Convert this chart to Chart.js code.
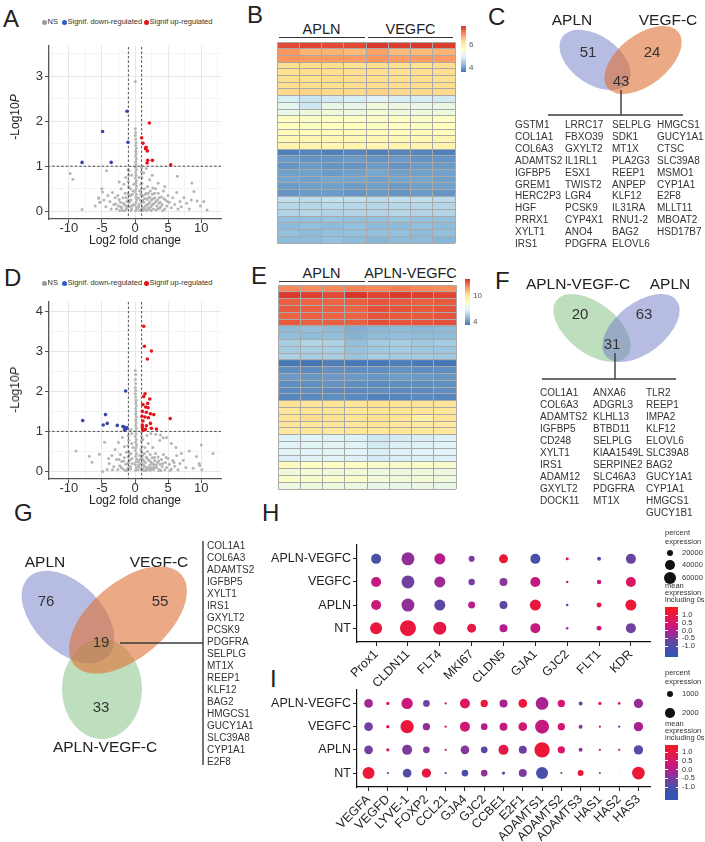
<!DOCTYPE html>
<html>
<head>
<meta charset="utf-8">
<script src="https://cdn.jsdelivr.net/npm/chart.js"></script>
<style>
body{margin:0;background:#fff;}
#page{position:relative;width:705px;height:842px;overflow:hidden;font-family:"Liberation Sans",Arial,sans-serif;color:#222;}
canvas{position:absolute;}
.t{position:absolute;white-space:nowrap;line-height:1;}
.ln{position:absolute;height:0;border-top:1.3px solid #333;}
.bar{position:absolute;}
</style>
</head>
<body>
<div id="page"></div>
<script>
// ---------- data ----------
const fcCut = 1, pCut = 1;

// volcano A (APLN vs VEGFC)
const aUp = [[2.17,1.96],[1.01,1.63],[1.21,1.51],[1.67,1.42],[1.6,1.39],[1.87,1.34],[1.92,1.13],[1.82,1.07],[2.63,1.13],[5.4,1.03]];
const aDown = [[-1.21,2.22],[-4.9,1.77],[-1.06,1.53],[-8.0,1.085],[-3.6,1.085]];
const aNS = [
  [0.1,0.02],[0.2,0.08],[0.05,0.14],[0.15,0.2],[0.25,0.26],[0.1,0.32],[0.2,0.38],[0.05,0.44],[0.15,0.5],[0.25,0.56],
  [0.1,0.62],[0.2,0.68],[0.05,0.74],[0.15,0.8],[0.1,0.86],[0.2,0.92],[0.1,0.98],[0.15,1.04],[0.1,1.1],[0.2,1.16],
  [0.1,1.22],[0.15,1.28],[0.1,1.34],[0.2,1.4],[0.1,1.46],[0.15,1.52],[0.1,1.6],[0.05,1.68],[0.1,1.75],[0.05,1.83],[0.05,2.88],
  [-1.05,0.1],[-0.95,0.25],[-1.05,0.4],[-0.95,0.55],[-1.0,0.66],[-0.95,0.8],[-1.05,0.92],
  [1.0,0.05],[0.95,0.2],[1.05,0.35],[0.95,0.5],[1.0,0.62],[1.05,0.75],[0.95,0.88],[1.0,0.97],
  [-2.8,0.05],[-2.5,0.12],[-2.2,0.2],[-2.0,0.08],[-1.8,0.3],[-1.6,0.15],[-1.5,0.4],[-1.3,0.05],[-1.2,0.22],[-0.9,0.35],
  [-0.8,0.1],[-0.7,0.5],[-0.6,0.25],[-0.5,0.05],[-0.4,0.38],[-0.3,0.15],[-0.2,0.6],[-0.3,0.45],[-0.6,0.02],[-1.9,0.02],
  [0.4,0.05],[0.5,0.3],[0.6,0.15],[0.7,0.45],[0.8,0.25],[0.9,0.6],[1.1,0.1],[1.2,0.35],[1.3,0.2],[1.4,0.5],
  [1.5,0.05],[1.6,0.28],[1.7,0.4],[1.8,0.15],[1.9,0.55],[2.0,0.08],[2.1,0.32],[2.2,0.2],[2.3,0.45],[2.4,0.1],
  [2.5,0.25],[2.6,0.38],[2.8,0.05],[2.9,0.18],[3.0,0.3],[3.1,0.5],[3.3,0.12],[3.4,0.25],[3.5,0.4],[3.7,0.07],
  [3.8,0.2],[4.0,0.32],[4.1,0.15],[4.3,0.45],[4.5,0.05],[4.6,0.25],[4.8,0.12],[5.0,0.35],[5.2,0.2],[5.5,0.08],
  [5.7,0.3],[6.0,0.15],[6.3,0.42],[6.5,0.05],[6.8,0.22],[7.0,0.1],[7.4,0.3],[7.8,0.18],[8.2,0.05],[8.5,0.25],
  [1.2,0.02],[1.6,0.12],[2.2,0.04],[2.7,0.15],[3.2,0.03],[3.6,0.18],[4.2,0.02],[1.4,0.28],[2.0,0.4],[2.7,0.52],
  [0.55,0.1],[0.75,0.02],[0.85,0.38],[1.15,0.24],[1.35,0.08],[1.55,0.38],[1.75,0.02],[1.85,0.26],[2.05,0.16],[2.25,0.3],
  [2.45,0.02],[2.55,0.14],[2.75,0.28],[2.95,0.4],[3.15,0.22],[3.45,0.06],[3.65,0.3],[3.9,0.1],[4.4,0.28],[4.9,0.22],
  [-0.45,0.12],[-0.65,0.35],[-0.85,0.2],[-1.15,0.12],[-1.35,0.3],[-1.55,0.02],[-1.75,0.18],[-2.15,0.1],[-2.4,0.26],[-2.9,0.16],
  [-3.0,0.3],[-3.2,0.15],[-3.4,0.42],[-3.6,0.05],[-3.8,0.22],[-4.1,0.35],[-4.4,0.1],[-4.7,0.25],[-5.0,0.5],[-5.3,0.2],
  [-5.5,0.3],[-6.0,0.12],[-2.6,0.35],[-2.1,0.5],[-1.7,0.6],[-2.3,0.02],[-1.4,0.12],
  [0.6,0.75],[1.3,0.85],[2.2,0.7],[3.5,0.62],[4.5,0.55],[1.7,0.95],[2.6,0.8],[-0.5,0.8],[-1.4,0.75],[-2.4,0.65],[-0.9,0.9],
  [-9.8,0.84],[-9.4,0.71],[-8.0,0.04],[-4.3,0.9],[-4.9,0.43],[-5.5,0.29],[-5.3,0.2],[6.4,0.78],[8.6,0.63],[8.9,0.44],
  [10.4,0.22],[10.9,0.03],[9.4,0.23],[9.9,0.12]
];

// volcano D (APLN vs APLN-VEGFC)
const dUp = [[1.32,3.63],[1.42,3.13],[2.48,3.01],[1.87,2.81],[1.52,1.94],[2.23,1.81],[1.32,1.87],[1.92,1.70],[1.2,1.67],[1.62,1.61],
  [1.97,1.59],[1.11,1.50],[1.72,1.48],[2.33,1.44],[2.84,1.42],[1.06,1.38],[1.52,1.36],[2.03,1.34],[5.32,1.32],[1.2,1.26],
  [2.33,1.2],[1.11,1.16],[1.72,1.14],[1.11,1.10],[2.48,1.08],[3.24,1.06],[1.2,1.03],[1.57,1.05]];
const dDown = [[-1.42,2.01],[-7.9,1.27],[-4.46,1.42],[-4.2,1.2],[-4.81,1.16],[-2.68,1.15],[-1.82,1.12],[-1.57,1.1],[-1.22,1.09],[-1.57,1.03],[-1.32,1.07]];
const dNS = [
  [0.1,0.03],[0.2,0.1],[0.05,0.17],[0.15,0.24],[0.25,0.31],[0.1,0.38],[0.2,0.45],[0.05,0.52],[0.15,0.59],[0.25,0.66],
  [0.1,0.73],[0.2,0.8],[0.05,0.87],[0.15,0.94],[0.1,1.01],[0.2,1.08],[0.1,1.15],[0.15,1.22],[0.1,1.29],[0.2,1.36],
  [0.1,1.43],[0.15,1.5],[0.1,1.57],[0.2,1.64],[0.1,1.71],[0.15,1.78],[0.1,1.86],[0.05,1.94],[0.1,2.02],[0.05,2.1],
  [0.1,2.2],[0.05,2.3],[0.1,2.42],[0.05,2.52],
  [-1.05,0.08],[-0.95,0.22],[-1.0,0.36],[-0.95,0.5],[-1.05,0.64],[-0.95,0.78],[-1.0,0.9],[-0.6,1.05],[-0.5,0.95],
  [0.95,0.06],[1.05,0.2],[0.95,0.34],[1.0,0.48],[1.05,0.62],[0.95,0.76],[1.0,0.88],[0.98,0.97],
  [-2.6,0.05],[-2.3,0.14],[-2.0,0.25],[-1.8,0.06],[-1.6,0.35],[-1.4,0.18],[-1.3,0.48],[-1.2,0.03],[-0.8,0.28],[-0.7,0.12],
  [-0.6,0.45],[-0.4,0.2],[-0.3,0.6],[-0.5,0.7],[-1.6,0.62],[-2.2,0.42],[-2.8,0.3],[-3.2,0.12],[-3.5,0.4],[-3.9,0.2],
  [-4.2,0.05],[-4.6,0.73],[-4.9,0.0],[-5.4,0.43],[-6.5,0.23],[-6.9,0.38],[-8.9,0.51],[-3.0,0.55],[-2.5,0.72],[-1.9,0.85],
  [0.4,0.04],[0.5,0.25],[0.6,0.12],[0.7,0.4],[0.8,0.2],[0.9,0.55],[1.1,0.08],[1.2,0.3],[1.3,0.16],[1.4,0.45],
  [1.5,0.03],[1.6,0.22],[1.7,0.36],[1.8,0.1],[1.9,0.5],[2.0,0.05],[2.1,0.28],[2.2,0.15],[2.3,0.42],[2.4,0.07],
  [2.5,0.2],[2.6,0.34],[2.7,0.6],[2.8,0.04],[2.9,0.15],[3.0,0.27],[3.1,0.45],[3.3,0.1],[3.4,0.22],[3.5,0.36],
  [3.7,0.05],[3.8,0.18],[4.0,0.3],[4.1,0.12],[4.3,0.42],[4.5,0.04],[4.6,0.22],[4.8,0.1],[5.0,0.32],[5.2,0.18],
  [5.5,0.06],[5.7,0.27],[6.0,0.13],[6.3,0.4],[6.5,0.04],[6.8,0.2],[7.0,0.45],[7.3,0.28],[7.7,0.1],[8.2,0.51],
  [0.55,0.16],[0.75,0.3],[0.85,0.06],[1.15,0.4],[1.35,0.26],[1.45,0.12],[1.65,0.02],[1.85,0.32],[2.15,0.08],[2.35,0.24],
  [2.55,0.1],[2.75,0.2],[2.95,0.35],[3.2,0.16],[3.6,0.26],[3.9,0.02],[4.2,0.2],[4.7,0.35],[5.3,0.02],[5.9,0.22],
  [-0.45,0.32],[-0.65,0.06],[-0.85,0.42],[-1.15,0.2],[-1.45,0.02],[-1.7,0.26],[-2.1,0.1],[-2.4,0.3],[-3.4,0.04],[-4.0,0.32],
  [1.3,0.02],[1.7,0.1],[2.3,0.03],[2.9,0.08],[3.6,0.02],[1.5,0.6],[2.0,0.7],[1.2,0.8],[1.8,0.9],[2.4,0.95],
  [3.14,0.93],[3.75,0.77],[3.85,0.91],[4.25,0.84],[4.76,0.85],[5.5,0.7],[6.2,0.6],
  [9.3,0.37],[9.7,0.2],[9.8,0.15],[10.1,0.04],[10.0,0.66],[11.8,0.45],[8.8,0.08]
];

// heatmap B (APLN x4, VEGFC x4)
const heatCols = ['1','2','3','4','5','6','7','8'];
const heatB = [
  [7.5,7.55,7.5,7.5,7.65,7.6,7.65,7.6],
  [6.95,6.7,6.7,6.65,6.85,6.65,6.65,6.7],
  [6.95,6.9,6.9,6.9,6.95,6.9,6.9,6.9],
  [6.35,6.35,6.35,6.3,6.35,6.35,6.3,6.35],
  [6.3,6.35,6.35,6.35,6.35,6.3,6.35,6.35],
  [6.35,6.3,6.35,6.35,6.35,6.35,6.35,6.3],
  [6.35,6.35,6.3,6.35,6.35,6.35,6.35,6.35],
  [6.4,6.45,6.4,6.4,6.45,6.4,6.4,6.4],
  [4.9,4.75,4.85,4.9,5.0,4.9,4.9,4.85],
  [5.1,4.8,5.2,5.15,5.35,5.25,5.2,5.2],
  [5.2,5.3,5.3,5.25,5.4,5.3,5.3,5.3],
  [5.6,5.55,5.6,5.6,5.55,5.6,5.55,5.6],
  [5.65,5.6,5.65,5.65,5.6,5.65,5.6,5.65],
  [5.75,5.7,5.7,5.75,5.7,5.7,5.75,5.7],
  [5.8,5.85,5.8,5.8,5.8,5.8,5.8,5.85],
  [5.9,5.9,5.85,5.9,5.85,5.9,5.9,5.9],
  [3.7,3.75,3.7,3.75,3.7,3.75,3.75,3.7],
  [3.95,3.9,3.9,3.95,3.9,3.95,3.9,3.9],
  [3.9,3.95,3.9,3.9,3.95,3.9,3.95,3.95],
  [4.0,4.0,3.95,4.0,4.05,4.0,4.0,4.0],
  [4.05,4.0,4.05,4.05,4.0,4.05,4.05,4.0],
  [3.95,4.0,4.0,3.95,4.0,3.95,4.0,4.0],
  [3.9,3.95,3.95,3.9,3.95,3.9,3.95,3.9],
  [4.7,4.65,4.7,4.7,4.65,4.7,4.7,4.65],
  [4.6,4.6,4.65,4.6,4.6,4.6,4.6,4.6],
  [4.55,4.6,4.55,4.55,4.55,4.6,4.55,4.55],
  [4.3,4.3,4.35,4.3,4.3,4.35,4.3,4.3],
  [4.25,4.3,4.25,4.3,4.25,4.25,4.3,4.25],
  [4.3,4.25,4.3,4.3,4.3,4.3,4.25,4.3],
  [4.25,4.25,4.3,4.25,4.2,4.25,4.25,4.2]
];
const heatBRange = [3.6, 7.7], heatBTicks = [6, 4];

// heatmap E (APLN x4, APLN-VEGFC x4)
const heatE = [
  [12.3,12.2,12.3,12.4,12.3,12.5,12.3,12.2],
  [13.8,13.7,13.5,13.9,13.6,13.8,13.7,13.6],
  [13.1,13.0,13.0,13.1,13.3,13.2,13.1,13.2],
  [13.2,13.1,13.1,13.0,13.4,13.3,13.2,13.3],
  [13.0,13.1,13.0,13.0,13.3,13.2,13.2,13.3],
  [13.2,13.1,13.1,13.1,13.4,13.3,13.3,13.4],
  [5.0,5.1,5.0,4.7,4.9,5.0,4.9,5.0],
  [5.1,5.0,5.1,4.8,5.0,5.1,5.0,5.0],
  [5.6,5.8,5.7,5.1,5.5,5.6,5.4,5.5],
  [5.5,5.6,5.6,5.2,5.4,5.5,5.4,5.3],
  [5.7,5.6,5.6,5.3,5.6,5.5,5.5,5.4],
  [3.4,3.3,3.5,3.4,3.4,3.5,3.4,3.3],
  [3.9,3.8,4.0,3.9,3.9,4.0,3.9,3.9],
  [4.2,4.1,4.2,4.2,4.1,4.3,4.2,4.1],
  [3.9,3.9,4.0,3.9,3.8,3.9,3.9,3.9],
  [3.8,3.9,3.8,3.8,3.9,3.8,3.8,3.9],
  [3.7,3.8,3.9,3.8,3.6,3.7,3.8,3.7],
  [10.3,10.2,10.2,10.1,10.4,10.2,10.1,10.2],
  [10.1,10.2,10.1,10.1,10.2,10.2,10.1,10.1],
  [10.2,10.5,10.3,10.2,10.3,10.2,9.5,10.2],
  [10.1,10.0,10.1,10.0,10.1,10.0,9.8,9.9],
  [10.0,10.1,10.0,10.1,10.0,10.1,10.0,10.0],
  [6.8,6.9,6.9,6.8,6.5,6.6,6.7,6.8],
  [6.9,7.0,7.0,6.9,6.6,6.8,6.8,6.9],
  [6.9,6.9,7.0,6.9,6.7,6.8,6.9,6.9],
  [6.7,6.9,6.9,6.8,6.6,6.7,6.8,6.8],
  [8.8,8.6,8.7,8.6,8.3,8.2,8.3,8.2],
  [7.8,7.9,7.8,7.8,7.6,7.6,7.7,7.6],
  [8.4,8.2,8.3,8.3,7.9,7.8,7.9,7.8],
  [7.6,7.7,7.7,7.6,7.4,7.4,7.5,7.4]
];
const heatERange = [3.3, 14.0], heatETicks = [10, 4];

// Venn counts
const vennCSets = ['APLN', 'VEGF-C'];
const vennCCounts = [51, 24, 43];
const vennFSets = ['APLN-VEGF-C', 'APLN'];
const vennFCounts = [20, 63, 31];
const vennGSets = ['APLN', 'VEGF-C', 'APLN-VEGF-C'];
const vennGCounts = [76, 55, 19, 33];

// shared gene lists
const genesC = [
  ['GSTM1','COL1A1','COL6A3','ADAMTS2','IGFBP5','GREM1','HERC2P3','HGF','PRRX1','XYLT1','IRS1'],
  ['LRRC17','FBXO39','GXYLT2','IL1RL1','ESX1','TWIST2','LGR4','PCSK9','CYP4X1','ANO4','PDGFRA'],
  ['SELPLG','SDK1','MT1X','PLA2G3','REEP1','ANPEP','KLF12','IL31RA','RNU1-2','BAG2','ELOVL6'],
  ['HMGCS1','GUCY1A1','CTSC','SLC39A8','MSMO1','CYP1A1','E2F8','MLLT11','MBOAT2','HSD17B7']
];
const genesF = [
  ['COL1A1','COL6A3','ADAMTS2','IGFBP5','CD248','XYLT1','IRS1','ADAM12','GXYLT2','DOCK11'],
  ['ANXA6','ADGRL3','KLHL13','BTBD11','SELPLG','KIAA1549L','SERPINE2','SLC46A3','PDGFRA','MT1X'],
  ['TLR2','REEP1','IMPA2','KLF12','ELOVL6','SLC39A8','BAG2','GUCY1A1','CYP1A1','HMGCS1','GUCY1B1']
];
const genesG = ['COL1A1','COL6A3','ADAMTS2','IGFBP5','XYLT1','IRS1','GXYLT2','PCSK9','PDGFRA','SELPLG','MT1X','REEP1','KLF12','BAG2','HMGCS1','GUCY1A1','SLC39A8','CYP1A1','E2F8'];

// dot plots (rows bottom -> top)
const dotGroups = ['NT', 'APLN', 'VEGFC', 'APLN-VEGFC'];
const hGenes = ['Prox1','CLDN11','FLT4','MKI67','CLDN5','GJA1','GJC2','FLT1','KDR'];
const hExprNT    = [1.0, 1.0, 0.9, 0.9, 0.0, 0.2, -0.3, 0.3, -0.6];
const hExprAPLN  = [0.3, -0.3, -0.8, 0.1, -0.8, 1.0, -1.0, 1.0, 1.1];
const hExprVEGFC = [0.2, -0.6, -0.2, -0.5, -0.4, 0.2, 0.3, 0.3, 0.6];
const hExprAV    = [-1.0, -0.3, 0.0, -0.5, 1.2, -1.1, 1.0, -1.1, -0.7];
// percent expression, thousands
const hPctNT    = [59, 105, 69, 33, 26, 41, 2.6, 10, 41];
const hPctAPLN  = [41, 69, 50, 20, 26, 50, 2.6, 10, 50];
const hPctVEGFC = [41, 69, 50, 17, 26, 41, 2.6, 8.3, 41];
const hPctAV    = [41, 69, 50, 15, 33, 41, 3.7, 6.6, 41];
const hSizeKeys = [20, 40, 60];

const iGenes = ['VEGFA','VEGFD','LYVE-1','FOXP2','CCL21','GJA4','GJC2','CCBE1','E2F1','ADAMTS1','ADAMTS2','ADAMTS3','HAS1','HAS2','HAS3'];
const iExprNT    = [1.1, -1.0, -0.9, 1.0, -1.0, -1.0, -0.3, -1.0, -0.5, -1.0, -1.0, 1.0, -0.9, 0.0, 1.1];
const iExprAPLN  = [-0.6, 0.6, -0.5, -0.5, 0.7, -0.4, -0.8, 0.9, -0.6, 1.1, 0.5, -0.4, -0.1, 0.3, -0.9];
const iExprVEGFC = [-0.6, 0.9, 1.0, -0.3, 0.7, 0.4, 0.0, 0.2, 0.4, 0.2, 0.4, -0.4, 0.5, -1.0, -0.1];
const iExprAV    = [-0.2, 1.0, 0.3, -0.6, 0.3, 0.6, 1.1, -0.1, 1.1, -0.1, 0.5, -0.7, 1.0, 0.8, -0.3];
const iPctNT    = [3270, 120, 1720, 1960, 120, 1020, 1020, 250, 1450, 3270, 90, 820, 90, 10, 3660];
const iPctAPLN  = [1720, 250, 2270, 1020, 120, 1720, 1020, 2270, 1450, 5310, 1210, 360, 120, 120, 1960];
const iPctVEGFC = [1720, 250, 4010, 1210, 120, 2270, 1020, 1450, 1720, 4440, 1210, 360, 120, 120, 1960];
const iPctAV    = [1720, 250, 2900, 1020, 120, 2270, 1210, 1450, 1720, 3660, 1210, 360, 250, 165, 1960];
const iSizeKeys = [1000, 2000];
const exprTicks = [1.0, 0.5, 0.0, -0.5, -1.0];

// ---------- helpers ----------
Chart.defaults.font.family = '"Liberation Sans", Arial, sans-serif';
Chart.defaults.color = '#222';
Chart.defaults.animation = false;

const page = document.getElementById('page');
function addCanvas(l, t, w, h) {
  const c = document.createElement('canvas');
  c.width = w; c.height = h;
  c.style.cssText = `left:${l}px;top:${t}px;width:${w}px;height:${h}px`;
  page.appendChild(c);
  return c;
}
function txt(s, x, y, size, align, extra) {
  const d = document.createElement('div');
  d.className = 't';
  const tx = align === 'center' ? '-50%' : align === 'right' ? '-100%' : '0';
  d.style.cssText = `left:${x}px;top:${y}px;font-size:${size}px;transform:translate(${tx},-50%);${extra || ''}`;
  d.innerHTML = s;
  page.appendChild(d);
  return d;
}
function hline(x1, x2, y) {
  const d = document.createElement('div');
  d.className = 'ln';
  d.style.cssText = `left:${x1}px;top:${y}px;width:${x2 - x1}px`;
  page.appendChild(d);
}
function box(l, t, w, h, bg, extra) {
  const d = document.createElement('div');
  d.className = 'bar';
  d.style.cssText = `left:${l}px;top:${t}px;width:${w}px;height:${h}px;background:${bg};${extra || ''}`;
  page.appendChild(d);
  return d;
}
const hex2rgb = h => [1, 3, 5].map(i => parseInt(h.slice(i, i + 2), 16));
function mix(a, b, f) {
  const A = hex2rgb(a), B = hex2rgb(b);
  return 'rgb(' + A.map((v, i) => Math.round(v + (B[i] - v) * f)).join(',') + ')';
}
const RDYLBU = ['#4575b4','#91bfdb','#e0f3f8','#ffffbf','#fee090','#fc8d59','#d73027'];
function rdylbu(t) {
  t = Math.max(0, Math.min(1, t));
  const p = t * (RDYLBU.length - 1), i = Math.min(Math.floor(p), RDYLBU.length - 2);
  return mix(RDYLBU[i], RDYLBU[i + 1], p - i);
}
const DOTSTOPS = [[-1.75,'#2f55b8'],[-1.0,'#4a4fa8'],[-0.5,'#7b3c9e'],[0,'#b51c8c'],[0.5,'#d8176c'],[1.0,'#e9173d'],[1.5,'#f11d22']];
function dotColor(v) {
  if (v <= DOTSTOPS[0][0]) return DOTSTOPS[0][1];
  for (let i = 0; i < DOTSTOPS.length - 1; i++) {
    const [a, ca] = DOTSTOPS[i], [b, cb] = DOTSTOPS[i + 1];
    if (v <= b) return mix(ca, cb, (v - a) / (b - a));
  }
  return DOTSTOPS[DOTSTOPS.length - 1][1];
}
const isMaj = (v, m) => Math.abs(v / m - Math.round(v / m)) < 1e-6;

// ---------- volcano ----------
function volcano(cv, ns, down, up, yMin, yMax) {
  const pts = a => a.map(([x, y]) => ({x, y}));
  const cut = (d) => ({type: 'line', data: d, borderColor: '#3a3a3a', borderWidth: 0.9, borderDash: [2.5, 2],
    pointRadius: 0, order: 1});
  const gridCol = m => c => (c.tick && isMaj(c.tick.value, m)) ? '#e2e2e2' : '#f1f1f1';
  const tickCol = m => c => (c.tick && isMaj(c.tick.value, m)) ? '#555' : 'rgba(0,0,0,0)';
  return new Chart(cv, {
    type: 'scatter',
    data: {datasets: [
      {label: 'Signif up-regulated', data: pts(up), backgroundColor: '#e3151b', pointRadius: 1.8, borderWidth: 0, order: 0},
      {label: 'Signif. down-regulated', data: pts(down), backgroundColor: '#3a45a8', pointRadius: 1.8, borderWidth: 0, order: 0},
      cut([{x: -fcCut, y: -1}, {x: -fcCut, y: 10}]),
      cut([{x: fcCut, y: -1}, {x: fcCut, y: 10}]),
      cut([{x: -20, y: pCut}, {x: 20, y: pCut}]),
      {label: 'NS', data: pts(ns), backgroundColor: '#b5b5b5', pointRadius: 1.5, borderWidth: 0, order: 2}
    ]},
    options: {
      responsive: false,
      layout: {padding: {top: 6, right: 33, left: 0, bottom: 0}},
      plugins: {legend: {display: false}, tooltip: {enabled: false}},
      scales: {
        x: {type: 'linear', min: -13, max: 13,
          ticks: {stepSize: 2.5, includeBounds: false, autoSkip: false, maxRotation: 0, padding: -2, color: '#333',
            font: {size: 13}, callback: v => isMaj(v, 5) ? String(v) : ''},
          grid: {color: gridCol(5), tickColor: tickCol(5), tickLength: 4, lineWidth: 0.8, tickWidth: 1},
          border: {display: true, color: '#555', width: 1.3},
          title: {display: true, text: 'Log2 fold change', font: {size: 12}, color: '#222', padding: {top: 0, bottom: 12}},
          afterFit: s => { s.height = 41; }},
        y: {type: 'linear', min: yMin, max: yMax,
          ticks: {stepSize: 0.5, includeBounds: false, autoSkip: false, padding: 2, color: '#333',
            font: {size: 13}, callback: v => isMaj(v, 1) ? String(v) : ''},
          grid: {color: gridCol(1), tickColor: tickCol(1), tickLength: 4, lineWidth: 0.8, tickWidth: 1},
          border: {display: true, color: '#555', width: 1.3},
          afterFit: s => { s.width = 49; }}
      }
    }
  });
}
function volcanoLegend(y) {
  const items = [['#9a9a9a', 44, 'NS'], ['#2d5fc0', 64, 'Signif. down-regulated'], ['#e3151b', 146, 'Signif up-regulated']];
  items.forEach(([c, x, s]) => {
    box(x - 2.5, y - 2.5, 5, 5, c, 'border-radius:50%');
    txt(s, x + 3.5, y, 7.5, 'left', 'color:#333');
  });
}

// ---------- heatmap ----------
function heatmap(cv, rows, range) {
  const [lo, hi] = range;
  return new Chart(cv, {
    type: 'bar',
    data: {labels: heatCols, datasets: rows.map(r => ({
      data: r.map(() => 1), backgroundColor: r.map(v => rdylbu((v - lo) / (hi - lo))),
      borderWidth: 0, barPercentage: 1, categoryPercentage: 1}))},
    options: {
      responsive: false,
      layout: {padding: 2},
      plugins: {legend: {display: false}, tooltip: {enabled: false}},
      scales: {
        x: {stacked: true, offset: true, ticks: {display: false}, border: {display: false},
          grid: {offset: true, color: '#a9a9a9', lineWidth: 1, drawTicks: false, z: 1}},
        y: {stacked: true, min: 0, max: rows.length, reverse: true,
          ticks: {display: false, stepSize: 1}, border: {display: false},
          grid: {color: '#a9a9a9', lineWidth: 1, drawTicks: false, z: 1}}
      }
    }
  });
}
function heatLegend(l, t, w, h, range, ticks) {
  const [lo, hi] = range;
  const stops = RDYLBU.slice().reverse().map((c, i) => `${c} ${(i / 6 * 100).toFixed(1)}%`).join(',');
  box(l, t, w, h, `linear-gradient(to bottom, ${stops})`);
  ticks.forEach(v => txt(String(v), l + w + 3, t + (hi - v) / (hi - lo) * h, 8, 'left', 'color:#555'));
}

// ---------- venn ----------
const vennPlugin = {
  id: 'venn',
  beforeDatasetsDraw(chart, args, o) {
    const {ctx, scales: {x, y}} = chart;
    o.shapes.forEach(s => {
      const cx = x.getPixelForValue(s.cx), cy = y.getPixelForValue(s.cy);
      const rx = Math.abs(x.getPixelForValue(s.cx + s.rx) - cx), ry = Math.abs(y.getPixelForValue(s.cy + s.ry) - cy);
      ctx.save();
      ctx.beginPath();
      ctx.ellipse(cx, cy, rx, ry, s.rot * Math.PI / 180, 0, Math.PI * 2);
      ctx.fillStyle = s.fill;
      ctx.fill();
      ctx.restore();
    });
  },
  afterDatasetsDraw(chart, args, o) {
    const {ctx, scales: {x, y}} = chart;
    ctx.save();
    ctx.strokeStyle = '#3a3a3a';
    ctx.lineWidth = 1.4;
    o.leaders.forEach(([[x1, y1], [x2, y2]]) => {
      ctx.beginPath();
      ctx.moveTo(x.getPixelForValue(x1), y.getPixelForValue(y1));
      ctx.lineTo(x.getPixelForValue(x2), y.getPixelForValue(y2));
      ctx.stroke();
    });
    ctx.textAlign = 'center';
    ctx.textBaseline = 'middle';
    ctx.fillStyle = '#333';
    ctx.font = '15px "Liberation Sans", Arial, sans-serif';
    const meta = chart.getDatasetMeta(0);
    meta.data.forEach((el, i) => ctx.fillText(String(o.counts[i]), el.x, el.y));
    ctx.fillStyle = '#222';
    ctx.font = '15.5px "Liberation Sans", Arial, sans-serif';
    o.names.forEach((n, i) => ctx.fillText(n, x.getPixelForValue(o.namePos[i][0]), y.getPixelForValue(o.namePos[i][1])));
    ctx.restore();
  }
};
function venn(l, t, w, h, cfg) {
  const cv = addCanvas(l, t, w, h);
  return new Chart(cv, {
    type: 'scatter',
    data: {datasets: [{data: cfg.countPos.map(([x, y]) => ({x, y})), pointRadius: 0}]},
    options: {
      responsive: false,
      layout: {padding: 0},
      plugins: {legend: {display: false}, tooltip: {enabled: false}, venn: cfg},
      scales: {
        x: {type: 'linear', min: l, max: l + w, display: false},
        y: {type: 'linear', min: t, max: t + h, reverse: true, display: false}
      }
    },
    plugins: [vennPlugin]
  });
}
const BLUE = 'rgba(112,122,200,0.5)', ORANGE = 'rgba(224,112,52,0.6)', GREEN = 'rgba(110,185,110,0.45)';

// ---------- dot plot ----------
function dotplot(cv, genes, exprRows, pctRows, rad, pad, xH, yW) {
  const data = [];
  exprRows.forEach((row, j) => row.forEach((v, i) => data.push({x: i + 1, y: j + 1, v, p: pctRows[j][i]})));
  return new Chart(cv, {
    type: 'scatter',
    data: {datasets: [{data, borderWidth: 0,
      pointRadius: c => c.raw ? rad(c.raw.p) : 3,
      backgroundColor: c => c.raw ? dotColor(c.raw.v) : '#999'}]},
    options: {
      responsive: false,
      layout: {padding: pad},
      plugins: {legend: {display: false}, tooltip: {enabled: false}},
      scales: {
        x: {type: 'linear', min: 0.4, max: genes.length + 0.6,
          ticks: {stepSize: 1, includeBounds: false, autoSkip: false, minRotation: 45, maxRotation: 45, padding: 1,
            font: {size: 12.5}, color: '#222', callback: v => genes[Math.round(v) - 1] || ''},
          grid: {drawOnChartArea: false, tickLength: 4, tickColor: '#222', tickWidth: 1},
          border: {display: true, color: '#111', width: 1.2},
          afterFit: s => { s.height = xH; }},
        y: {type: 'linear', min: 0.4, max: dotGroups.length + 0.6,
          ticks: {stepSize: 1, includeBounds: false, autoSkip: false, padding: 2,
            font: {size: 12.5}, color: '#222', callback: v => dotGroups[Math.round(v) - 1] || ''},
          grid: {drawOnChartArea: false, tickLength: 4, tickColor: '#222', tickWidth: 1},
          border: {display: true, color: '#111', width: 1.2},
          afterFit: s => { s.width = yW; }}
      }
    }
  });
}
function dotLegend(y0, sizeKeys, rad, keyY, labFmt, barTop, barH, v1y, pxPerUnit) {
  txt('percent', 665, y0, 7.5, 'left', 'color:#333');
  txt('expression', 665, y0 + 8.5, 7.5, 'left', 'color:#333');
  sizeKeys.forEach((k, i) => {
    const r = rad(k);
    box(670 - r, keyY[i] - r, 2 * r, 2 * r, '#111', 'border-radius:50%');
    txt(labFmt(k), 682, keyY[i], 7.5, 'left', 'color:#333');
  });
  const my = barTop - 21;
  txt('mean', 665, my, 7.5, 'left', 'color:#333');
  txt('expression', 665, my + 7, 7.5, 'left', 'color:#333');
  txt('including 0s', 665, my + 14, 7.5, 'left', 'color:#333');
  const vTop = 1.0 + (v1y - barTop) / pxPerUnit, vBot = 1.0 - (barTop + barH - v1y) / pxPerUnit;
  const stops = [];
  for (let k = 0; k <= 12; k++) {
    const v = vTop - (vTop - vBot) * k / 12;
    stops.push(`${dotColor(v)} ${(k / 12 * 100).toFixed(1)}%`);
  }
  box(665, barTop, 13, barH, `linear-gradient(to bottom, ${stops.join(',')})`);
  exprTicks.forEach(v => {
    const y = v1y + (1.0 - v) * pxPerUnit;
    box(665, y - 0.5, 2.5, 1, '#fff');
    box(675.5, y - 0.5, 2.5, 1, '#fff');
    txt(v.toFixed(1), 682, y, 7.5, 'left', 'color:#333');
  });
}

// ---------- build ----------
// panel letters
[['A', 3, 18.5], ['B', 247, 14.5], ['C', 488, 16.5], ['D', 4, 278], ['E', 251, 276], ['F', 495, 281],
 ['G', 14, 513], ['H', 262, 513], ['I', 270, 679]].forEach(([s, x, y]) => txt(s, x, y, 24, 'left', 'color:#222'));

// A and D
volcanoLegend(22);
volcano(addCanvas(0, 36, 254, 224), aNS, aDown, aUp, -0.17, 3.67);
txt('-Log10<i>P</i>', 15, 117, 12, 'center', 'transform:translate(-50%,-50%) rotate(-90deg);color:#222');
volcanoLegend(283);
volcano(addCanvas(0, 292, 254, 228), dNS, dDown, dUp, -0.19, 4.24);
txt('-Log10<i>P</i>', 15, 390, 12, 'center', 'transform:translate(-50%,-50%) rotate(-90deg);color:#222');

// B and E
heatmap(addCanvas(275, 40, 182, 205), heatB, heatBRange);
txt('APLN', 321.5, 29, 14.5, 'center');
txt('VEGFC', 410.5, 29, 14.5, 'center');
hline(279, 365, 37); hline(368, 453, 37);
heatLegend(461, 26, 5, 46, heatBRange, heatBTicks);

heatmap(addCanvas(276, 283, 182, 208), heatE, heatERange);
txt('APLN', 321.5, 273, 14.5, 'center');
txt('APLN-VEGFC', 410.5, 273, 14.5, 'center');
hline(279, 365, 281); hline(368, 453, 281);
heatLegend(465, 279, 5, 46, heatERange, heatETicks);

// C
venn(520, 5, 185, 115, {
  shapes: [{cx: 595, cy: 60, rx: 40, ry: 24, rot: 35, fill: BLUE}, {cx: 643, cy: 60, rx: 45, ry: 25, rot: -38, fill: ORANGE}],
  counts: vennCCounts, countPos: [[588, 53], [652, 53], [621, 82]],
  names: vennCSets, namePos: [[572, 21], [668, 21]],
  leaders: [[[621, 90], [621, 115]], [[548, 115], [683, 115]]]
});
genesC.forEach((col, c) => col.forEach((g, r) => txt(g, [515, 565, 612, 657][c], 125 + r * 11.9, 10, 'left', 'color:#333')));

// F
venn(515, 272, 190, 112, {
  shapes: [{cx: 592, cy: 328, rx: 45, ry: 25, rot: 38, fill: GREEN}, {cx: 641, cy: 328, rx: 45, ry: 25, rot: -38, fill: BLUE}],
  counts: vennFCounts, countPos: [[580, 315], [644, 315], [612, 345]],
  names: vennFSets, namePos: [[578, 285], [670, 285]],
  leaders: [[[615, 353], [615, 379]], [[542, 379], [676, 379]]]
});
genesF.forEach((col, c) => col.forEach((g, r) => txt(g, [540, 593, 646][c], 393.3 + r * 12, 10, 'left', 'color:#333')));

// G
venn(0, 535, 212, 235, {
  shapes: [{cx: 68, cy: 617, rx: 56, ry: 34, rot: 45, fill: BLUE},
           {cx: 102, cy: 689, rx: 40, ry: 50, rot: 0, fill: GREEN},
           {cx: 128, cy: 620, rx: 70, ry: 38, rot: -40, fill: ORANGE}],
  counts: vennGCounts, countPos: [[46, 602], [160, 602], [101, 643], [101, 708]],
  names: vennGSets, namePos: [[45, 563], [159, 563], [105, 748]],
  leaders: [[[120, 643], [203, 643]], [[203, 541], [203, 765]]]
});
genesG.forEach((g, r) => txt(g, 207, 546 + r * 12, 10, 'left', 'color:#333'));

// H
const hRad = p => 0.781 * Math.sqrt(p);
dotplot(addCanvas(265, 535, 440, 157), hGenes,
  [hExprNT, hExprAPLN, hExprVEGFC, hExprAV], [hPctNT, hPctAPLN, hPctVEGFC, hPctAV],
  hRad, {top: 10, right: 55, left: 0, bottom: 0}, 50, 92);
dotLegend(533, hSizeKeys, hRad, [553, 565, 578], k => String(k * 1000), 607, 50, 615, 15.5);

// I
const iRad = p => 0.105 * Math.sqrt(p);
dotplot(addCanvas(265, 680, 440, 162), iGenes,
  [iExprNT, iExprAPLN, iExprVEGFC, iExprAV], [iPctNT, iPctAPLN, iPctVEGFC, iPctAV],
  iRad, {top: 9, right: 55, left: 0, bottom: 0}, 55, 92);
dotLegend(673, iSizeKeys, iRad, [694, 713], k => String(k), 745, 55, 752, 17.5);
</script>
</body>
</html>
